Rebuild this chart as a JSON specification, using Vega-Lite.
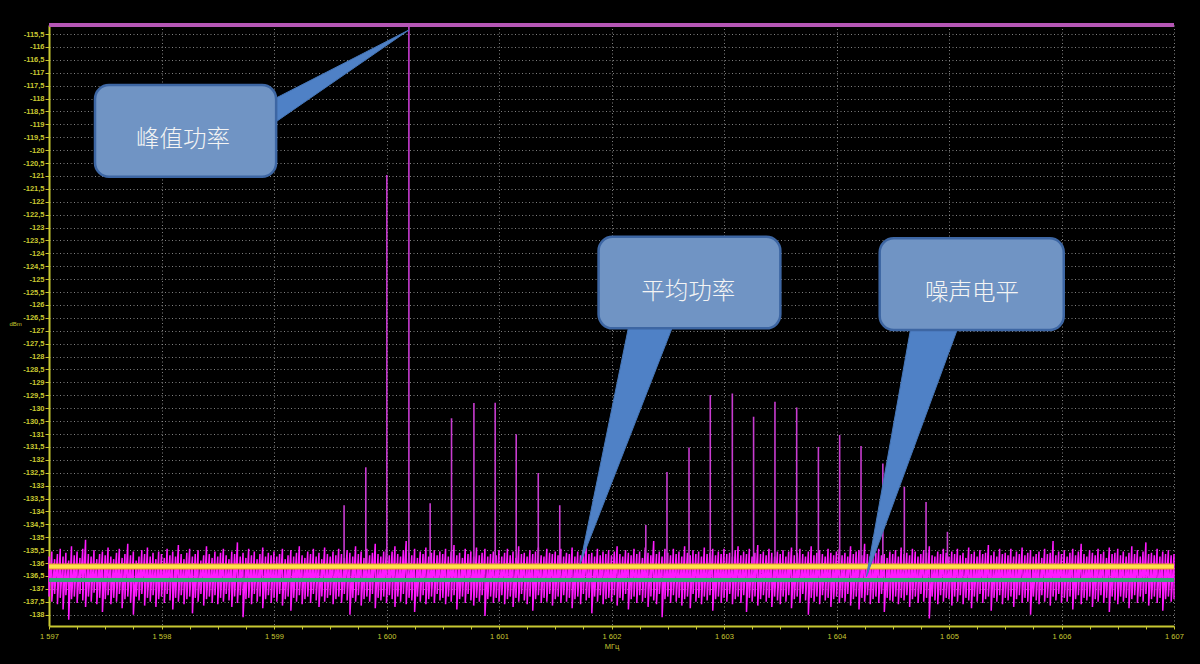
{
  "$schema": "https://vega.github.io/schema/vega-lite/v6.json",
  "autosize": {"type": "none"},
  "width": 1125,
  "height": 601,
  "padding": {"left": 49, "top": 25, "right": 26, "bottom": 38},
  "background": "#000000",
  "config": {
    "locale": {"number": {"decimal": ",", "thousands": " ", "grouping": [3], "currency": ["", ""], "minus": "-"}},
    "view": {"stroke": null, "fill": "#000000"}
  },
  "datasets": {
    "noise": [
      {"f":1597,"h":-135.75,"l":-137.3},{"f":1597.025,"h":-135.55,"l":-137.5},{"f":1597.05,"h":-135.85,"l":-137.2},{"f":1597.075,"h":-135.65,"l":-137.6},{"f":1597.1,"h":-135.45,"l":-137.35},{"f":1597.125,"h":-135.75,"l":-137.8},{"f":1597.15,"h":-135.6,"l":-137.25},{"f":1597.175,"h":-135.9,"l":-138.2},{"f":1597.2,"h":-135.35,"l":-137.4},{"f":1597.225,"h":-135.7,"l":-137.3},{"f":1597.25,"h":-135.55,"l":-137.55},{"f":1597.275,"h":-135.8,"l":-137.2},{"f":1597.3,"h":-135.45,"l":-137.45},{"f":1597.325,"h":-135.1,"l":-137.7},{"f":1597.35,"h":-135.65,"l":-137.3},{"f":1597.375,"h":-135.75,"l":-137.5},{"f":1597.4,"h":-135.5,"l":-137.15},{"f":1597.425,"h":-135.85,"l":-137.6},{"f":1597.45,"h":-135.65,"l":-137.35},{"f":1597.475,"h":-135.55,"l":-137.9},
      {"f":1597.5,"h":-135.7,"l":-137.4},{"f":1597.525,"h":-135.4,"l":-137.25},{"f":1597.55,"h":-135.75,"l":-137.6},{"f":1597.575,"h":-135.85,"l":-137.35},{"f":1597.6,"h":-135.6,"l":-137.5},{"f":1597.625,"h":-135.45,"l":-137.2},{"f":1597.65,"h":-135.8,"l":-137.75},{"f":1597.675,"h":-135.65,"l":-137.4},{"f":1597.7,"h":-135.25,"l":-137.3},{"f":1597.725,"h":-135.7,"l":-137.55},{"f":1597.75,"h":-135.55,"l":-138.0},{"f":1597.775,"h":-135.9,"l":-137.3},{"f":1597.8,"h":-135.75,"l":-137.45},{"f":1597.825,"h":-135.5,"l":-137.2},{"f":1597.85,"h":-135.65,"l":-137.65},{"f":1597.875,"h":-135.4,"l":-137.35},{"f":1597.9,"h":-135.75,"l":-137.5},{"f":1597.925,"h":-135.6,"l":-137.25},{"f":1597.95,"h":-135.85,"l":-137.7},{"f":1597.975,"h":-135.55,"l":-137.4},
      {"f":1598,"h":-135.65,"l":-137.3},{"f":1598.025,"h":-135.8,"l":-137.55},{"f":1598.05,"h":-135.45,"l":-137.2},{"f":1598.075,"h":-135.7,"l":-137.45},{"f":1598.1,"h":-135.55,"l":-137.8},{"f":1598.125,"h":-135.75,"l":-137.35},{"f":1598.15,"h":-135.3,"l":-137.5},{"f":1598.175,"h":-135.65,"l":-137.25},{"f":1598.2,"h":-135.85,"l":-137.6},{"f":1598.225,"h":-135.6,"l":-137.4},{"f":1598.25,"h":-135.45,"l":-137.3},{"f":1598.275,"h":-135.75,"l":-137.95},{"f":1598.3,"h":-135.65,"l":-137.35},{"f":1598.325,"h":-135.5,"l":-137.5},{"f":1598.35,"h":-135.9,"l":-137.2},{"f":1598.375,"h":-135.7,"l":-137.65},{"f":1598.4,"h":-135.35,"l":-137.4},{"f":1598.425,"h":-135.65,"l":-137.3},{"f":1598.45,"h":-135.8,"l":-137.55},{"f":1598.475,"h":-135.55,"l":-137.25},
      {"f":1598.5,"h":-135.75,"l":-137.6},{"f":1598.525,"h":-135.6,"l":-137.35},{"f":1598.55,"h":-135.45,"l":-137.5},{"f":1598.575,"h":-135.7,"l":-137.2},{"f":1598.6,"h":-135.85,"l":-137.45},{"f":1598.625,"h":-135.55,"l":-137.7},{"f":1598.65,"h":-135.65,"l":-137.3},{"f":1598.675,"h":-135.2,"l":-137.55},{"f":1598.7,"h":-135.75,"l":-137.25},{"f":1598.725,"h":-135.6,"l":-138.1},{"f":1598.75,"h":-135.8,"l":-137.4},{"f":1598.775,"h":-135.45,"l":-137.35},{"f":1598.8,"h":-135.7,"l":-137.6},{"f":1598.825,"h":-135.55,"l":-137.2},{"f":1598.85,"h":-135.85,"l":-137.5},{"f":1598.875,"h":-135.65,"l":-137.3},{"f":1598.9,"h":-135.4,"l":-137.75},{"f":1598.925,"h":-135.75,"l":-137.4},{"f":1598.95,"h":-135.6,"l":-137.25},{"f":1598.975,"h":-135.7,"l":-137.55},
      {"f":1599,"h":-135.55,"l":-137.35},{"f":1599.025,"h":-135.75,"l":-137.5},{"f":1599.05,"h":-135.65,"l":-137.2},{"f":1599.075,"h":-135.45,"l":-137.65},{"f":1599.1,"h":-135.85,"l":-137.4},{"f":1599.125,"h":-135.7,"l":-137.3},{"f":1599.15,"h":-135.5,"l":-137.85},{"f":1599.175,"h":-135.75,"l":-137.35},{"f":1599.2,"h":-135.6,"l":-137.5},{"f":1599.225,"h":-135.35,"l":-137.25},{"f":1599.25,"h":-135.7,"l":-137.6},{"f":1599.275,"h":-135.8,"l":-137.4},{"f":1599.3,"h":-135.55,"l":-137.3},{"f":1599.325,"h":-135.65,"l":-137.55},{"f":1599.35,"h":-135.45,"l":-137.2},{"f":1599.375,"h":-135.75,"l":-137.45},{"f":1599.4,"h":-135.6,"l":-137.7},{"f":1599.425,"h":-135.85,"l":-137.3},{"f":1599.45,"h":-135.4,"l":-137.5},{"f":1599.475,"h":-135.65,"l":-137.35},
      {"f":1599.5,"h":-135.75,"l":-137.25},{"f":1599.525,"h":-135.55,"l":-137.6},{"f":1599.55,"h":-135.7,"l":-137.4},{"f":1599.575,"h":-135.45,"l":-137.3},{"f":1599.6,"h":-135.65,"l":-137.55},{"f":1599.625,"h":-135.8,"l":-137.2},{"f":1599.65,"h":-135.5,"l":-137.45},{"f":1599.675,"h":-135.6,"l":-138.0},{"f":1599.7,"h":-135.75,"l":-137.35},{"f":1599.725,"h":-135.35,"l":-137.5},{"f":1599.75,"h":-135.65,"l":-137.25},{"f":1599.775,"h":-135.55,"l":-137.65},{"f":1599.8,"h":-135.8,"l":-137.4},{"f":1599.825,"h":-135.45,"l":-137.3},{"f":1599.85,"h":-135.7,"l":-137.5},{"f":1599.875,"h":-135.6,"l":-137.2},{"f":1599.9,"h":-135.25,"l":-137.75},{"f":1599.925,"h":-135.65,"l":-137.35},{"f":1599.95,"h":-135.75,"l":-137.45},{"f":1599.975,"h":-135.55,"l":-137.3},
      {"f":1600,"h":-135.45,"l":-137.55},{"f":1600.025,"h":-135.7,"l":-137.25},{"f":1600.05,"h":-135.55,"l":-137.4},{"f":1600.075,"h":-135.35,"l":-137.7},{"f":1600.1,"h":-135.65,"l":-137.3},{"f":1600.125,"h":-135.75,"l":-137.5},{"f":1600.15,"h":-135.5,"l":-137.2},{"f":1600.175,"h":-135.15,"l":-137.6},{"f":1600.2,"h":-135.6,"l":-137.35},{"f":1600.225,"h":-135.7,"l":-137.45},{"f":1600.25,"h":-135.45,"l":-137.9},{"f":1600.275,"h":-135.8,"l":-137.3},{"f":1600.3,"h":-135.55,"l":-137.5},{"f":1600.325,"h":-135.65,"l":-137.25},{"f":1600.35,"h":-135.4,"l":-137.6},{"f":1600.375,"h":-135.75,"l":-137.4},{"f":1600.4,"h":-135.6,"l":-137.3},{"f":1600.425,"h":-135.5,"l":-137.55},{"f":1600.45,"h":-135.7,"l":-137.2},{"f":1600.475,"h":-135.55,"l":-137.45},
      {"f":1600.5,"h":-135.65,"l":-137.35},{"f":1600.525,"h":-135.45,"l":-137.6},{"f":1600.55,"h":-135.75,"l":-137.3},{"f":1600.575,"h":-135.55,"l":-137.5},{"f":1600.6,"h":-135.3,"l":-137.25},{"f":1600.625,"h":-135.7,"l":-137.8},{"f":1600.65,"h":-135.6,"l":-137.4},{"f":1600.675,"h":-135.8,"l":-137.3},{"f":1600.7,"h":-135.45,"l":-137.55},{"f":1600.725,"h":-135.65,"l":-137.2},{"f":1600.75,"h":-135.55,"l":-137.45},{"f":1600.775,"h":-135.75,"l":-137.65},{"f":1600.8,"h":-135.4,"l":-137.35},{"f":1600.825,"h":-135.7,"l":-137.5},{"f":1600.85,"h":-135.6,"l":-137.25},{"f":1600.875,"h":-135.45,"l":-138.05},{"f":1600.9,"h":-135.75,"l":-137.4},{"f":1600.925,"h":-135.65,"l":-137.3},{"f":1600.95,"h":-135.55,"l":-137.55},{"f":1600.975,"h":-135.7,"l":-137.35},
      {"f":1601,"h":-135.5,"l":-137.5},{"f":1601.025,"h":-135.75,"l":-137.25},{"f":1601.05,"h":-135.6,"l":-137.6},{"f":1601.075,"h":-135.45,"l":-137.4},{"f":1601.1,"h":-135.7,"l":-137.3},{"f":1601.125,"h":-135.55,"l":-137.7},{"f":1601.15,"h":-135.8,"l":-137.35},{"f":1601.175,"h":-135.35,"l":-137.5},{"f":1601.2,"h":-135.65,"l":-137.2},{"f":1601.225,"h":-135.6,"l":-137.45},{"f":1601.25,"h":-135.75,"l":-137.6},{"f":1601.275,"h":-135.5,"l":-137.3},{"f":1601.3,"h":-135.65,"l":-137.85},{"f":1601.325,"h":-135.55,"l":-137.4},{"f":1601.35,"h":-135.4,"l":-137.25},{"f":1601.375,"h":-135.7,"l":-137.55},{"f":1601.4,"h":-135.75,"l":-137.35},{"f":1601.425,"h":-135.45,"l":-137.5},{"f":1601.45,"h":-135.6,"l":-137.2},{"f":1601.475,"h":-135.65,"l":-137.65},
      {"f":1601.5,"h":-135.55,"l":-137.4},{"f":1601.525,"h":-135.7,"l":-137.3},{"f":1601.55,"h":-135.45,"l":-137.55},{"f":1601.575,"h":-135.75,"l":-137.25},{"f":1601.6,"h":-135.6,"l":-137.5},{"f":1601.625,"h":-135.65,"l":-137.35},{"f":1601.65,"h":-135.4,"l":-137.75},{"f":1601.675,"h":-135.75,"l":-137.4},{"f":1601.7,"h":-135.55,"l":-137.3},{"f":1601.725,"h":-135.7,"l":-137.6},{"f":1601.75,"h":-135.5,"l":-137.2},{"f":1601.775,"h":-135.25,"l":-137.45},{"f":1601.8,"h":-135.65,"l":-137.35},{"f":1601.825,"h":-135.6,"l":-137.95},{"f":1601.85,"h":-135.75,"l":-137.3},{"f":1601.875,"h":-135.45,"l":-137.5},{"f":1601.9,"h":-135.7,"l":-137.25},{"f":1601.925,"h":-135.55,"l":-137.6},{"f":1601.95,"h":-135.65,"l":-137.4},{"f":1601.975,"h":-135.5,"l":-137.35},
      {"f":1602,"h":-135.7,"l":-137.5},{"f":1602.025,"h":-135.55,"l":-137.25},{"f":1602.05,"h":-135.35,"l":-137.65},{"f":1602.075,"h":-135.65,"l":-137.35},{"f":1602.1,"h":-135.75,"l":-137.45},{"f":1602.125,"h":-135.5,"l":-137.2},{"f":1602.15,"h":-135.6,"l":-137.8},{"f":1602.175,"h":-135.7,"l":-137.4},{"f":1602.2,"h":-135.45,"l":-137.3},{"f":1602.225,"h":-135.65,"l":-137.55},{"f":1602.25,"h":-135.55,"l":-137.25},{"f":1602.275,"h":-135.8,"l":-137.5},{"f":1602.3,"h":-135.4,"l":-137.35},{"f":1602.325,"h":-135.6,"l":-137.7},{"f":1602.35,"h":-135.7,"l":-137.3},{"f":1602.375,"h":-135.15,"l":-137.45},{"f":1602.4,"h":-135.65,"l":-137.6},{"f":1602.425,"h":-135.55,"l":-137.2},{"f":1602.45,"h":-135.75,"l":-138.1},{"f":1602.475,"h":-135.45,"l":-137.4},
      {"f":1602.5,"h":-135.6,"l":-137.3},{"f":1602.525,"h":-135.7,"l":-137.55},{"f":1602.55,"h":-135.45,"l":-137.25},{"f":1602.575,"h":-135.65,"l":-137.5},{"f":1602.6,"h":-135.55,"l":-137.35},{"f":1602.625,"h":-135.75,"l":-137.65},{"f":1602.65,"h":-135.35,"l":-137.4},{"f":1602.675,"h":-135.6,"l":-137.3},{"f":1602.7,"h":-135.7,"l":-137.75},{"f":1602.725,"h":-135.5,"l":-137.2},{"f":1602.75,"h":-135.65,"l":-137.5},{"f":1602.775,"h":-135.55,"l":-137.35},{"f":1602.8,"h":-135.75,"l":-137.6},{"f":1602.825,"h":-135.4,"l":-137.3},{"f":1602.85,"h":-135.65,"l":-137.45},{"f":1602.875,"h":-135.6,"l":-137.25},{"f":1602.9,"h":-135.45,"l":-137.85},{"f":1602.925,"h":-135.7,"l":-137.4},{"f":1602.95,"h":-135.55,"l":-137.3},{"f":1602.975,"h":-135.65,"l":-137.55},
      {"f":1603,"h":-135.45,"l":-137.35},{"f":1603.025,"h":-135.65,"l":-137.5},{"f":1603.05,"h":-135.6,"l":-137.2},{"f":1603.075,"h":-135.75,"l":-137.6},{"f":1603.1,"h":-135.5,"l":-137.4},{"f":1603.125,"h":-135.35,"l":-137.3},{"f":1603.15,"h":-135.7,"l":-137.55},{"f":1603.175,"h":-135.55,"l":-137.25},{"f":1603.2,"h":-135.65,"l":-137.9},{"f":1603.225,"h":-135.45,"l":-137.35},{"f":1603.25,"h":-135.75,"l":-137.5},{"f":1603.275,"h":-135.6,"l":-137.3},{"f":1603.3,"h":-135.3,"l":-137.65},{"f":1603.325,"h":-135.65,"l":-137.4},{"f":1603.35,"h":-135.55,"l":-137.25},{"f":1603.375,"h":-135.7,"l":-137.5},{"f":1603.4,"h":-135.45,"l":-137.35},{"f":1603.425,"h":-135.6,"l":-137.7},{"f":1603.45,"h":-135.75,"l":-137.3},{"f":1603.475,"h":-135.55,"l":-137.45},
      {"f":1603.5,"h":-135.65,"l":-137.6},{"f":1603.525,"h":-135.5,"l":-137.3},{"f":1603.55,"h":-135.75,"l":-137.5},{"f":1603.575,"h":-135.55,"l":-137.25},{"f":1603.6,"h":-135.4,"l":-137.75},{"f":1603.625,"h":-135.7,"l":-137.4},{"f":1603.65,"h":-135.6,"l":-137.3},{"f":1603.675,"h":-135.45,"l":-137.55},{"f":1603.7,"h":-135.65,"l":-137.2},{"f":1603.725,"h":-135.75,"l":-137.45},{"f":1603.75,"h":-135.55,"l":-138.0},{"f":1603.775,"h":-135.35,"l":-137.35},{"f":1603.8,"h":-135.7,"l":-137.5},{"f":1603.825,"h":-135.6,"l":-137.3},{"f":1603.85,"h":-135.5,"l":-137.6},{"f":1603.875,"h":-135.65,"l":-137.25},{"f":1603.9,"h":-135.75,"l":-137.45},{"f":1603.925,"h":-135.45,"l":-137.35},{"f":1603.95,"h":-135.6,"l":-137.7},{"f":1603.975,"h":-135.7,"l":-137.4},
      {"f":1604,"h":-135.55,"l":-137.3},{"f":1604.025,"h":-135.45,"l":-137.55},{"f":1604.05,"h":-135.7,"l":-137.35},{"f":1604.075,"h":-135.6,"l":-137.5},{"f":1604.1,"h":-135.75,"l":-137.2},{"f":1604.125,"h":-135.35,"l":-137.65},{"f":1604.15,"h":-135.65,"l":-137.4},{"f":1604.175,"h":-135.55,"l":-137.3},{"f":1604.2,"h":-135.5,"l":-137.8},{"f":1604.225,"h":-135.7,"l":-137.35},{"f":1604.25,"h":-135.25,"l":-137.5},{"f":1604.275,"h":-135.65,"l":-137.25},{"f":1604.3,"h":-135.75,"l":-137.6},{"f":1604.325,"h":-135.55,"l":-137.4},{"f":1604.35,"h":-135.6,"l":-137.3},{"f":1604.375,"h":-135.45,"l":-137.55},{"f":1604.4,"h":-135.7,"l":-137.2},{"f":1604.425,"h":-135.65,"l":-137.9},{"f":1604.45,"h":-135.8,"l":-137.35},{"f":1604.475,"h":-135.55,"l":-137.45},
      {"f":1604.5,"h":-135.65,"l":-137.5},{"f":1604.525,"h":-135.5,"l":-137.3},{"f":1604.55,"h":-135.75,"l":-137.6},{"f":1604.575,"h":-135.4,"l":-137.35},{"f":1604.6,"h":-135.65,"l":-137.45},{"f":1604.625,"h":-135.6,"l":-137.25},{"f":1604.65,"h":-135.7,"l":-137.7},{"f":1604.675,"h":-135.45,"l":-137.4},{"f":1604.7,"h":-135.55,"l":-137.3},{"f":1604.725,"h":-135.75,"l":-137.55},{"f":1604.75,"h":-135.65,"l":-137.2},{"f":1604.775,"h":-135.5,"l":-137.5},{"f":1604.8,"h":-135.6,"l":-137.35},{"f":1604.825,"h":-135.35,"l":-138.15},{"f":1604.85,"h":-135.7,"l":-137.3},{"f":1604.875,"h":-135.75,"l":-137.45},{"f":1604.9,"h":-135.55,"l":-137.6},{"f":1604.925,"h":-135.65,"l":-137.25},{"f":1604.95,"h":-135.45,"l":-137.5},{"f":1604.975,"h":-135.6,"l":-137.35},
      {"f":1605,"h":-135.75,"l":-137.4},{"f":1605.025,"h":-135.55,"l":-137.65},{"f":1605.05,"h":-135.65,"l":-137.3},{"f":1605.075,"h":-135.45,"l":-137.5},{"f":1605.1,"h":-135.7,"l":-137.25},{"f":1605.125,"h":-135.6,"l":-137.6},{"f":1605.15,"h":-135.8,"l":-137.35},{"f":1605.175,"h":-135.4,"l":-137.45},{"f":1605.2,"h":-135.65,"l":-137.75},{"f":1605.225,"h":-135.55,"l":-137.3},{"f":1605.25,"h":-135.75,"l":-137.5},{"f":1605.275,"h":-135.5,"l":-137.2},{"f":1605.3,"h":-135.65,"l":-137.55},{"f":1605.325,"h":-135.6,"l":-137.4},{"f":1605.35,"h":-135.3,"l":-137.3},{"f":1605.375,"h":-135.7,"l":-137.85},{"f":1605.4,"h":-135.55,"l":-137.35},{"f":1605.425,"h":-135.75,"l":-137.5},{"f":1605.45,"h":-135.45,"l":-137.25},{"f":1605.475,"h":-135.65,"l":-137.6},
      {"f":1605.5,"h":-135.6,"l":-137.35},{"f":1605.525,"h":-135.7,"l":-137.45},{"f":1605.55,"h":-135.45,"l":-137.3},{"f":1605.575,"h":-135.75,"l":-137.7},{"f":1605.6,"h":-135.55,"l":-137.4},{"f":1605.625,"h":-135.65,"l":-137.25},{"f":1605.65,"h":-135.4,"l":-137.55},{"f":1605.675,"h":-135.7,"l":-137.35},{"f":1605.7,"h":-135.6,"l":-137.5},{"f":1605.725,"h":-135.5,"l":-138.0},{"f":1605.75,"h":-135.75,"l":-137.3},{"f":1605.775,"h":-135.65,"l":-137.45},{"f":1605.8,"h":-135.55,"l":-137.6},{"f":1605.825,"h":-135.8,"l":-137.25},{"f":1605.85,"h":-135.45,"l":-137.5},{"f":1605.875,"h":-135.65,"l":-137.35},{"f":1605.9,"h":-135.6,"l":-137.65},{"f":1605.925,"h":-135.15,"l":-137.3},{"f":1605.95,"h":-135.7,"l":-137.45},{"f":1605.975,"h":-135.55,"l":-137.2},
      {"f":1606,"h":-135.65,"l":-137.55},{"f":1606.025,"h":-135.5,"l":-137.35},{"f":1606.05,"h":-135.75,"l":-137.5},{"f":1606.075,"h":-135.6,"l":-137.3},{"f":1606.1,"h":-135.45,"l":-137.8},{"f":1606.125,"h":-135.7,"l":-137.4},{"f":1606.15,"h":-135.55,"l":-137.25},{"f":1606.175,"h":-135.25,"l":-137.6},{"f":1606.2,"h":-135.65,"l":-137.35},{"f":1606.225,"h":-135.75,"l":-137.45},{"f":1606.25,"h":-135.5,"l":-137.3},{"f":1606.275,"h":-135.6,"l":-137.7},{"f":1606.3,"h":-135.7,"l":-137.4},{"f":1606.325,"h":-135.45,"l":-137.5},{"f":1606.35,"h":-135.65,"l":-137.25},{"f":1606.375,"h":-135.55,"l":-137.55},{"f":1606.4,"h":-135.8,"l":-137.35},{"f":1606.425,"h":-135.4,"l":-137.9},{"f":1606.45,"h":-135.65,"l":-137.3},{"f":1606.475,"h":-135.6,"l":-137.45},
      {"f":1606.5,"h":-135.45,"l":-137.6},{"f":1606.525,"h":-135.7,"l":-137.3},{"f":1606.55,"h":-135.55,"l":-137.5},{"f":1606.575,"h":-135.75,"l":-137.35},{"f":1606.6,"h":-135.6,"l":-137.75},{"f":1606.625,"h":-135.35,"l":-137.4},{"f":1606.65,"h":-135.65,"l":-137.25},{"f":1606.675,"h":-135.5,"l":-137.55},{"f":1606.7,"h":-135.75,"l":-137.3},{"f":1606.725,"h":-135.55,"l":-137.5},{"f":1606.75,"h":-135.2,"l":-137.2},{"f":1606.775,"h":-135.65,"l":-137.65},{"f":1606.8,"h":-135.6,"l":-137.4},{"f":1606.825,"h":-135.7,"l":-137.3},{"f":1606.85,"h":-135.45,"l":-137.55},{"f":1606.875,"h":-135.75,"l":-137.35},{"f":1606.9,"h":-135.55,"l":-137.85},{"f":1606.925,"h":-135.65,"l":-137.4},{"f":1606.95,"h":-135.5,"l":-137.3},{"f":1606.975,"h":-135.7,"l":-137.5},
      {"f":1607,"h":-135.65,"l":-137.4}
    ],
    "peaks": [
      {"f":1599.623,"p":-133.76},{"f":1599.816,"p":-132.29},{"f":1600.003,"p":-120.96},{"f":1600.199,"p":-115.15},
      {"f":1600.388,"p":-133.68},{"f":1600.578,"p":-130.39},{"f":1600.777,"p":-129.8},{"f":1600.966,"p":-129.79},
      {"f":1601.153,"p":-131.01},{"f":1601.349,"p":-132.51},{"f":1601.54,"p":-133.76},{"f":1602.305,"p":-134.53},
      {"f":1602.493,"p":-132.47},{"f":1602.689,"p":-131.52},{"f":1602.878,"p":-129.49},{"f":1603.074,"p":-129.43},
      {"f":1603.263,"p":-130.33},{"f":1603.453,"p":-129.75},{"f":1603.646,"p":-129.97},{"f":1603.839,"p":-131.5},
      {"f":1604.028,"p":-131.04},{"f":1604.218,"p":-131.46},{"f":1604.412,"p":-132.14},{"f":1604.603,"p":-133.05},
      {"f":1604.796,"p":-133.63},{"f":1604.986,"p":-134.79}
    ],
    "levels": [
      {"name":"max","f":1597,"f2":1607,"p":-115.15},
      {"name":"avg","f":1597,"f2":1607,"p":-136.13},
      {"name":"noise","f":1597,"f2":1607,"p":-136.66}
    ],
    "pointers": [
      {"id":"peak","i":0,"f":1598.7875,"p":-118.495},{"id":"peak","i":1,"f":1600.199,"p":-115.344},{"id":"peak","i":2,"f":1598.7875,"p":-119.592},
      {"id":"avg","i":0,"f":1602.2006,"p":-125.809},{"id":"avg","i":1,"f":1601.7221,"p":-136.014},{"id":"avg","i":2,"f":1602.6354,"p":-125.809},
      {"id":"noise","i":0,"f":1604.7044,"p":-125.809},{"id":"noise","i":1,"f":1604.2655,"p":-136.534},{"id":"noise","i":2,"f":1605.1698,"p":-125.809}
    ],
    "boxes": [
      {"id":"peak","f":1597.409,"f2":1599.019,"p":-117.476,"p2":-121.03},
      {"id":"avg","f":1601.885,"f2":1603.501,"p":-123.355,"p2":-126.906},
      {"id":"noise","f":1604.384,"f2":1606.02,"p":-123.417,"p2":-126.972}
    ],
    "notes": [
      {"label":"峰值功率","f":1598.192,"p":-119.607},
      {"label":"平均功率","f":1602.683,"p":-125.487},
      {"label":"噪声电平","f":1605.204,"p":-125.549}
    ]
  },
  "encoding": {
    "x": {
      "field": "f", "type": "quantitative",
      "scale": {"domain": [1597, 1607], "nice": false, "zero": false},
      "axis": {
        "values": [1597,1597.25,1597.5,1597.75,1598,1598.25,1598.5,1598.75,1599,1599.25,1599.5,1599.75,1600,1600.25,1600.5,1600.75,1601,1601.25,1601.5,1601.75,1602,1602.25,1602.5,1602.75,1603,1603.25,1603.5,1603.75,1604,1604.25,1604.5,1604.75,1605,1605.25,1605.5,1605.75,1606,1606.25,1606.5,1606.75,1607],
        "format": ",.0f",
        "labelExpr": "datum.value % 1 === 0 ? datum.label : ''",
        "title": "МГц",
        "titleFont": "Liberation Sans", "titleFontSize": 7.5, "titleFontWeight": "normal", "titleColor": "#c8c832", "titlePadding": 3,
        "labelFont": "Liberation Sans", "labelFontSize": 7.5, "labelColor": "#c8c832", "labelPadding": 3, "labelFlush": false, "labelOverlap": false,
        "tickSize": 3, "tickColor": "#c8c832", "tickWidth": 1,
        "domainColor": "#c8c832", "domainWidth": 2,
        "grid": true, "gridColor": "#a0a0a0", "gridDash": [1, 2.5],
        "gridOpacity": {"condition": {"test": "datum.value % 1 !== 0", "value": 0}, "value": 0.8}
      }
    },
    "y": {
      "field": "p", "type": "quantitative",
      "scale": {"domain": [-138.44, -115.15], "nice": false, "zero": false},
      "axis": {
        "values": [-138,-137.5,-137,-136.5,-136,-135.5,-135,-134.5,-134,-133.5,-133,-132.5,-132,-131.5,-131,-130.5,-130,-129.5,-129,-128.5,-128,-127.5,-127,-126.5,-126,-125.5,-125,-124.5,-124,-123.5,-123,-122.5,-122,-121.5,-121,-120.5,-120,-119.5,-119,-118.5,-118,-117.5,-117,-116.5,-116,-115.5],
        "format": ".1~f",
        "title": "dBm",
        "titleAngle": 0, "titleX": -40, "titleY": 298, "titleAlign": "left", "titleBaseline": "middle",
        "titleFont": "Liberation Sans", "titleFontSize": 6, "titleFontWeight": "normal", "titleColor": "#c8c832",
        "labelFont": "Liberation Sans", "labelFontSize": 7.5, "labelFontWeight": "bold", "labelColor": "#c8c832", "labelPadding": 1, "labelOverlap": false, "labelFlush": false,
        "tickSize": 4, "tickColor": "#c8c832",
        "domainColor": "#c8c832", "domainWidth": 2,
        "grid": true, "gridColor": "#a0a0a0", "gridDash": [1, 2.5], "gridOpacity": 0.8
      }
    }
  },
  "layer": [
    {
      "data": {"name": "noise"},
      "transform": [{"fold": ["h", "l"], "as": ["k", "p"]}],
      "mark": {"type": "line", "color": "#ff1aff", "strokeWidth": 1.5},
      "encoding": {
        "order": [{"field": "f", "type": "quantitative"}, {"field": "k", "type": "ordinal"}]
      }
    },
    {
      "data": {"name": "peaks"},
      "mark": {"type": "rule", "color": "#c83cd0", "strokeWidth": 1.6},
      "encoding": {
        "y2": {"datum": -136.3}
      }
    },
    {
      "data": {"name": "levels"},
      "transform": [{"filter": "datum.name === 'avg'"}],
      "mark": {"type": "rule", "strokeWidth": 6, "color": "#e6952c"},
      "encoding": {
        "x2": {"field": "f2"}
      }
    },
    {
      "data": {"name": "levels"},
      "mark": {"type": "rule", "strokeWidth": 4},
      "encoding": {
        "x2": {"field": "f2"},
        "color": {
          "field": "name", "type": "nominal", "legend": null,
          "scale": {"domain": ["max", "avg", "noise"], "range": ["#b556b5", "#ffe24a", "#36a077"]}
        }
      }
    },
    {
      "data": {"name": "pointers"},
      "mark": {"type": "line", "fill": "#4f81c6", "stroke": "#4576b8", "strokeWidth": 1, "interpolate": "linear-closed"},
      "encoding": {
        "detail": {"field": "id", "type": "nominal"},
        "order": {"field": "i", "type": "quantitative"}
      }
    },
    {
      "data": {"name": "boxes"},
      "mark": {"type": "rect", "fill": "#7094c4", "stroke": "#3d66a3", "strokeWidth": 2.5, "cornerRadius": 14},
      "encoding": {
        "x2": {"field": "f2"},
        "y2": {"field": "p2"}
      }
    },
    {
      "data": {"name": "notes"},
      "mark": {"type": "text", "font": "Noto Sans CJK SC", "fontSize": 23.5, "fontWeight": 300, "color": "#f4f4f4", "align": "center", "baseline": "middle"},
      "encoding": {
        "text": {"field": "label"}
      }
    }
  ]
}
